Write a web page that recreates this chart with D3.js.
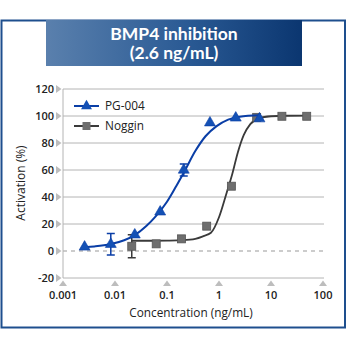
<!DOCTYPE html>
<html><head><meta charset="utf-8">
<script src="https://cdn.jsdelivr.net/npm/d3@7"></script>
<style>body{margin:0;background:#fff}svg{display:block}</style>
</head><body>
<svg id="c" width="348" height="348"></svg>
<script>
const titleLines = ["BMP4 inhibition", "(2.6 ng/mL)"];
const xTicks = [0.001, 0.01, 0.1, 1, 10, 100];
const xTickLabels = ["0.001", "0.01", "0.1", "1", "10", "100"];
const yTicks = [-20, 0, 20, 40, 60, 80, 100, 120];
const seriesNames = ["PG-004", "Noggin"];
// PG-004 measured points
const pgX = [0.0026, 0.0083, 0.024, 0.074, 0.21, 0.67, 2.1, 6.0];
const pgY = [3, 5, 12, 29, 60, 95, 98.6, 98];
const pgErr = [0, 8, 0, 0, 4.5, 0, 0, 0];
// Noggin measured points
const ngX = [0.021, 0.062, 0.19, 0.58, 1.73, 5.3, 16.2, 48.6];
const ngY = [3.5, 5.3, 9, 18.4, 48, 99, 99.8, 99.8];
const ngErr = [8.5, 0, 0, 0, 0, 0, 0, 0];
// fitted curves
const pgCurveX = [0.0026, 0.004, 0.008, 0.015, 0.024, 0.04, 0.06, 0.1, 0.15, 0.22, 0.35, 0.55, 0.9, 1.5, 2.5, 6];
const pgCurveY = [2.8, 3.4, 5, 8, 11.8, 18.5, 25.5, 36.5, 48, 59.5, 74, 85, 92.5, 97.3, 99.5, 100.5];
const ngCurveX = [0.021, 0.05, 0.1, 0.2, 0.35, 0.5, 0.7, 1.0, 1.4, 1.8, 2.3, 3, 4, 6, 10, 20, 48.6];
const ngCurveY = [7.6, 7.6, 7.7, 8, 9, 11, 13.5, 25, 43, 57, 73, 86, 94, 98.5, 99.8, 100.2, 100.3];

const svg = d3.select("#c");
const defs = svg.append("defs");
const grad = defs.append("linearGradient").attr("id", "tg").attr("x1", "0").attr("x2", "1");
grad.append("stop").attr("offset", "0").attr("stop-color", "#5a80ad");
grad.append("stop").attr("offset", "0.55").attr("stop-color", "#2a5a94");
grad.append("stop").attr("offset", "1").attr("stop-color", "#0b3670");

// outer frame
svg.append("rect").attr("x", 1.5).attr("y", 20.5).attr("width", 343.5).attr("height", 307)
  .attr("fill", "#fff").attr("stroke", "#1e4f8e").attr("stroke-width", 2);
// title banner
svg.append("rect").attr("x", 46).attr("y", 20).attr("width", 256).attr("height", 46).attr("fill", "url(#tg)");
svg.append("g").selectAll("text").data(titleLines).join("text")
  .attr("x", 174).attr("y", (d, i) => 39.5 + i * 19.5)
  .attr("text-anchor", "middle").attr("fill", "#fff")
  .style("font-family", "Lato, sans-serif").style("font-weight", "700").style("font-size", "17.5px")
  .text(d => d);

const x = d3.scaleLog().domain([0.001, 100]).range([63, 323]);
const y = d3.scaleLinear().domain([-20, 120]).range([278, 89]);

// gridlines
svg.append("g").selectAll("line").data(yTicks.filter(v => v !== 0 && v !== -20)).join("line")
  .attr("x1", 63).attr("x2", 324).attr("y1", d => y(d)).attr("y2", d => y(d))
  .attr("stroke", "#b4b4b4").attr("stroke-width", 1);
svg.append("line").attr("x1", 63).attr("x2", 324).attr("y1", y(0)).attr("y2", y(0))
  .attr("stroke", "#999").attr("stroke-dasharray", "4,4");
svg.append("line").attr("x1", 63).attr("x2", 324).attr("y1", y(-20)).attr("y2", y(-20))
  .attr("stroke", "#b4b4b4");
svg.append("line").attr("x1", 63).attr("x2", 63).attr("y1", y(120)).attr("y2", y(-20))
  .attr("stroke", "#b4b4b4");

// y tick markers & labels
const yg = svg.append("g");
yg.selectAll("path").data(yTicks).join("path")
  .attr("d", d => `M${56},${y(d) - 4}L${61.5},${y(d)}L${56},${y(d) + 4}Z`).attr("fill", "#bdbdbd");
yg.selectAll("text").data(yTicks).join("text")
  .attr("x", 54).attr("y", d => y(d) + 4).attr("text-anchor", "end")
  .style("font-family", "'Open Sans', sans-serif").style("font-weight", "600").style("font-size", "11px")
  .attr("fill", "#222").text(d => d);
// x tick markers & labels
const xg = svg.append("g");
xg.selectAll("path").data(xTicks).join("path")
  .attr("d", d => `M${x(d) - 4},${286}L${x(d)},${280.5}L${x(d) + 4},${286}Z`).attr("fill", "#bdbdbd");
xg.selectAll("text").data(xTicks).join("text")
  .attr("x", d => x(d)).attr("y", 298.5).attr("text-anchor", "middle")
  .style("font-family", "'Open Sans', sans-serif").style("font-weight", "600").style("font-size", "11px")
  .attr("fill", "#222").text((d, i) => xTickLabels[i]);

// axis titles
svg.append("text").attr("x", 191).attr("y", 317).attr("text-anchor", "middle")
  .style("font-family", "'Open Sans', sans-serif").style("font-size", "11.8px").attr("fill", "#222")
  .text("Concentration (ng/mL)");
svg.append("text").attr("transform", "translate(25,183) rotate(-90)").attr("text-anchor", "middle")
  .style("font-family", "'Open Sans', sans-serif").style("font-size", "12px").attr("fill", "#222")
  .text("Activation (%)");

const line = d3.line().x(d => x(d[0])).y(d => y(d[1])).curve(d3.curveMonotoneX);
const blue = "#0a3ea6", gray = "#3a3a3a";
const tri = d3.symbol().type(d3.symbolTriangle).size(52);

// Noggin
svg.append("path").datum(d3.zip(ngCurveX, ngCurveY)).attr("d", line)
  .attr("fill", "none").attr("stroke", gray).attr("stroke-width", 1.8);
const ngPts = d3.zip(ngX, ngY, ngErr);
svg.append("g").selectAll("path").data(ngPts.filter(d => d[2] > 0)).join("path")
  .attr("d", d => `M${x(d[0])},${y(d[1] - d[2])}V${y(d[1] + d[2])}M${x(d[0]) - 4},${y(d[1] - d[2])}h8M${x(d[0]) - 4},${y(d[1] + d[2])}h8`)
  .attr("stroke", gray).attr("stroke-width", 1.5).attr("fill", "none");
svg.append("g").selectAll("rect").data(ngPts).join("rect")
  .attr("x", d => x(d[0]) - 4).attr("y", d => y(d[1]) - 4).attr("width", 8).attr("height", 8)
  .attr("fill", "#6e6e6e").attr("stroke", "#555").attr("stroke-width", 0.8);

// PG-004
svg.append("path").datum(d3.zip(pgCurveX, pgCurveY)).attr("d", line)
  .attr("fill", "none").attr("stroke", blue).attr("stroke-width", 2);
const pgPts = d3.zip(pgX, pgY, pgErr);
svg.append("g").selectAll("path").data(pgPts.filter(d => d[2] > 0)).join("path")
  .attr("d", d => `M${x(d[0])},${y(d[1] - d[2])}V${y(d[1] + d[2])}M${x(d[0]) - 4},${y(d[1] - d[2])}h8M${x(d[0]) - 4},${y(d[1] + d[2])}h8`)
  .attr("stroke", blue).attr("stroke-width", 1.5).attr("fill", "none");
svg.append("g").selectAll("path.t").data(pgPts).join("path")
  .attr("transform", d => `translate(${x(d[0])},${y(d[1])})`).attr("d", tri)
  .attr("fill", "#1451b5").attr("stroke", blue).attr("stroke-width", 0.6);

// legend
const lg = svg.append("g");
const legRows = [{name: seriesNames[0], c: blue, t: "tri"}, {name: seriesNames[1], c: gray, t: "sq"}];
legRows.forEach((r, i) => {
  const yy = 106 + i * 20;
  lg.append("line").attr("x1", 74).attr("x2", 99).attr("y1", yy).attr("y2", yy)
    .attr("stroke", r.c).attr("stroke-width", 2);
  if (r.t === "tri") lg.append("path").attr("transform", `translate(86.5,${yy})`).attr("d", tri).attr("fill", "#1451b5");
  else lg.append("rect").attr("x", 82.5).attr("y", yy - 4).attr("width", 8).attr("height", 8).attr("fill", "#6e6e6e");
  lg.append("text").attr("x", 105).attr("y", yy + 4)
    .style("font-family", "'Open Sans', sans-serif").style("font-size", "11.8px").attr("fill", "#222").text(r.name);
});
</script>
</body></html>
